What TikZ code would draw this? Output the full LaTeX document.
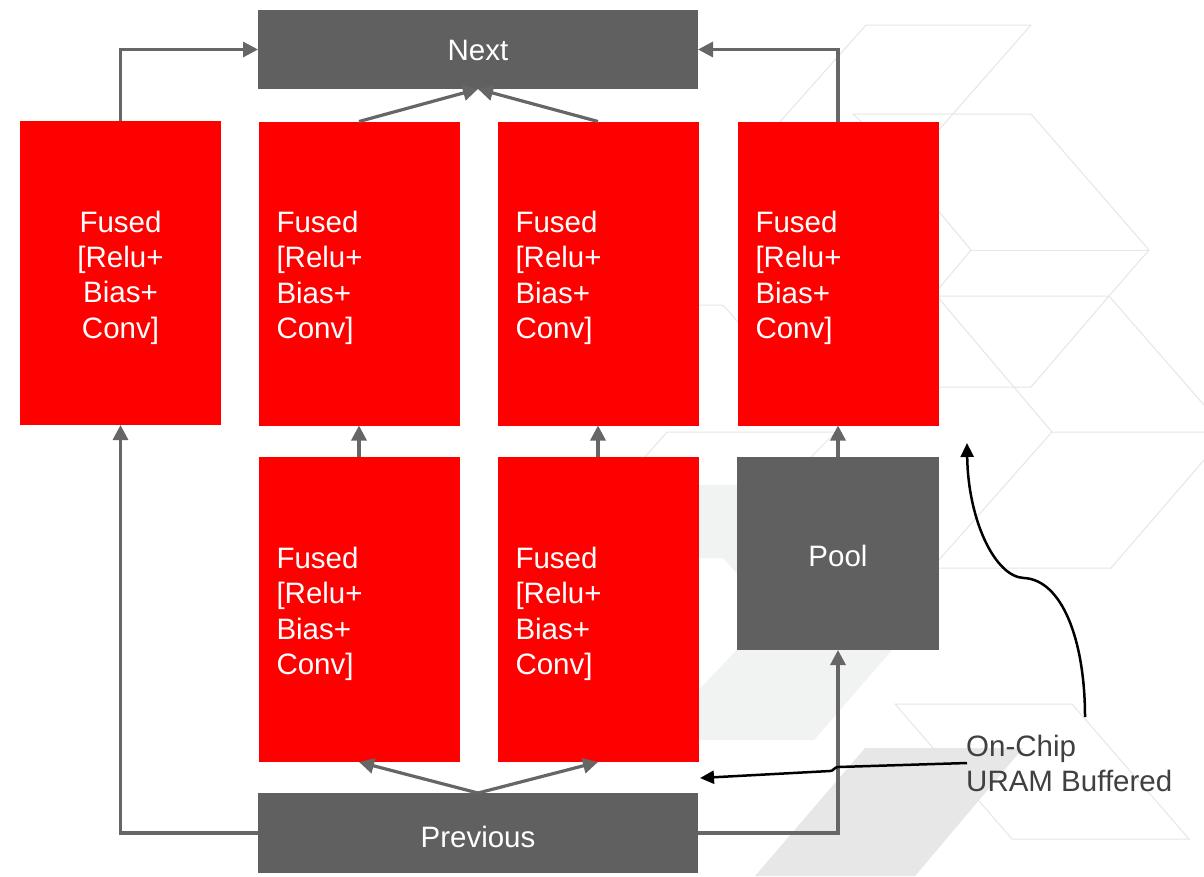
\documentclass[tikz,border=0pt]{standalone}
\usepackage{fontspec}
\setmainfont{Liberation Sans}
\usetikzlibrary{arrows.meta}
\definecolor{boxred}{HTML}{FF0000}
\definecolor{boxgray}{HTML}{606060}
\definecolor{conngray}{HTML}{666666}
\definecolor{bgl}{HTML}{E6E6E6}
\definecolor{bgfillA}{HTML}{F1F2F2}
\definecolor{bgfillB}{HTML}{E7E7E7}
\definecolor{lbltext}{HTML}{404040}
\newcommand{\fusedtxt}{Fused\\{[}Relu+\\Bias+\\Conv{]}}
\begin{document}
\begin{tikzpicture}[x=1pt,y=-1pt,
  base/.style={inner sep=0pt, outer sep=0pt, font=\fontsize{29.5}{35.3}\selectfont, text=white},
  redbox/.style={base, fill=boxred, minimum width=201pt, minimum height=304pt},
  fusedtext/.style={base, text width=165pt, inner xsep=18pt, align=left},
  graybox/.style={base, fill=boxgray, text depth=0pt},
  conn/.style={draw=conngray, line width=3.2pt, -{Triangle[length=15pt,width=15pt]}},
  blk/.style={draw=black, line width=2.5pt, -{Triangle[length=14pt,width=13pt]}},
  bgline/.style={draw=bgl, line width=1pt}]
\useasboundingbox (0,0) rectangle (1204,876);
\fill[white] (0,0) rectangle (1204,876);
% background pattern
\fill[bgfillA] (690,485) -- (813,485) -- (925,612) -- (814,740) -- (651,740) -- (772,613) -- (723,558) -- (690,558) -- cycle;
\fill[bgfillB] (865,748) -- (1023,748) -- (915,876) -- (755,876) -- cycle;
\draw[bgline] (770,133) -- (866,25) -- (1031,25) -- (930,140);
\draw[bgline] (870,130) -- (853,114) -- (1031,114) -- (1149,250) -- (1109,296) -- (1204,405);
\draw[bgline] (930,201) -- (971,250) -- (930,299);
\draw[bgline] (971,250) -- (1149,250);
\draw[bgline] (930,296) -- (1109,296) -- (1031,387) -- (930,387);
\draw[bgline] (930,288) -- (1052,432) -- (1204,432);
\draw[bgline] (1052,432) -- (930,570);
\draw[bgline] (930,568) -- (1111,568) -- (1204,460);
\draw[bgline] (645,457) -- (667,432) -- (836,432) -- (811,457);
\draw[bgline] (690,305) -- (723,305) -- (745,330);
\draw[bgline] (895,704) -- (1072,704) -- (1189,839) -- (1012,839) -- cycle;
% boxes
\node[graybox, minimum width=440pt, minimum height=79pt, text height=22pt] (next) at (478,49.5) {Next};
\node[graybox, minimum width=440pt, minimum height=80pt, text height=28pt] (prev) at (478,833) {Previous};
\node[redbox] (r1) at (120.5,273) {};
\node[redbox] (r2) at (359,273.5) {};
\node[redbox] (r3) at (598,273.5) {};
\node[redbox] (r4) at (838,273.5) {};
\node[redbox, minimum height=305pt] (r5) at (359,609.5) {};
\node[redbox, minimum height=305pt] (r6) at (598,609.5) {};
\node[graybox, minimum width=202pt, minimum height=193pt, text height=25pt] (pool) at (838,553.5) {Pool};
\node[fusedtext, align=center] (t1) at (120.5,277.5) {\fusedtxt};
\node[fusedtext] (t2) at (359,278) {\fusedtxt};
\node[fusedtext] (t3) at (598,278) {\fusedtxt};
\node[fusedtext] (t4) at (838,278) {\fusedtxt};
\node[fusedtext] (t5) at (359,614) {\fusedtxt};
\node[fusedtext] (t6) at (598,614) {\fusedtxt};
% connectors
\draw[conn] (r1.north) |- (next.west);
\draw[conn] (r4.north) |- (next.east);
\draw[conn] (r2.north) -- (next.south);
\draw[conn] (r3.north) -- (next.south);
\draw[conn] (prev.north) -- (r5.south);
\draw[conn] (prev.north) -- (r6.south);
\draw[conn] (prev.west) -| (r1.south);
\draw[conn] (prev.east) -| (pool.south);
\draw[conn] (r5.north) -- (r2.south);
\draw[conn] (r6.north) -- (r3.south);
\draw[conn] (pool.north) -- (r4.south);
% label and black arrows
\node[anchor=base west, inner sep=0pt, align=left, text=lbltext, font=\fontsize{29.5}{35}\selectfont] (lbl) at (966,791) {On-Chip\\URAM Buffered};
\coordinate (ua) at (1085,717);
\coordinate (ta) at (967,443);
\coordinate (ub) at (967,763);
\coordinate (tb) at (700,778);
\draw[blk] (ua) .. controls (1085,640) and (1062,580) .. (1024,578) .. controls (995,577) and (968,520) .. (ta);
\draw[blk] (ub) -- (838,767) .. controls (834,767) and (834,771) .. (830,771) -- (tb);
\end{tikzpicture}
\end{document}
